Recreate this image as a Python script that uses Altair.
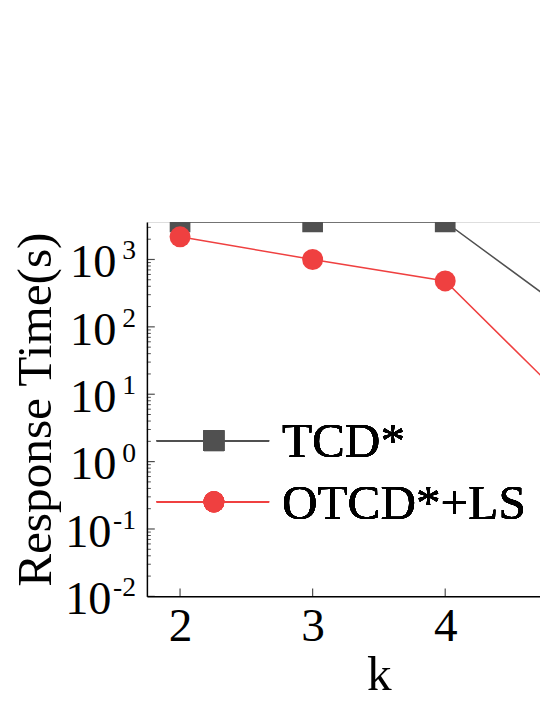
import altair as alt
import pandas as pd

# ---- data ----
k_values = [2, 3, 4, 5]
tcd_times = [3600, 3600, 3600, 130]
otcd_times = [2170, 1000, 480, 5.4]
series_names = ["TCD*", "OTCD*+LS"]
series_colors = ["#505050", "#ef4040"]
series_shapes = ["square", "circle"]
series_sizes = [441, 452]

x_ticks = [2, 3, 4]
y_exponents = [-2, -1, 0, 1, 2, 3]
minor_multipliers = [2, 3, 4, 5, 6, 7, 8, 9]
x_domain = [1.75, 5.25]
y_domain = [0.01, 3600]

W, H = 471, 380
FONT = "Liberation Serif"

df = pd.DataFrame({
    "k": k_values * 2,
    "time": tcd_times + otcd_times,
    "series": [series_names[0]] * len(k_values) + [series_names[1]] * len(k_values),
})

xs = alt.Scale(domain=x_domain, nice=False, zero=False)
ys = alt.Scale(type="log", domain=y_domain, nice=False)

x_axis = alt.Axis(values=x_ticks, format="d", ticks=False, grid=False, domain=True,
                  domainColor="black", domainWidth=1.5,
                  labelFont=FONT, labelFontSize=48, labelColor="black", labelPadding=7,
                  title="k", titleFont=FONT, titleFontSize=50, titleFontWeight="normal",
                  titleColor="black", titleY=95, titleBaseline="alphabetic", titleX=W / 2)
y_axis = alt.Axis(labels=False, ticks=False, grid=False, domain=True,
                  domainColor="black", domainWidth=1.5,
                  title="Response Time(s)", titleFont=FONT, titleFontSize=50,
                  titleFontWeight="normal", titleColor="black", titleAngle=270,
                  titleBaseline="alphabetic", titleAlign="center",
                  titleX=-98, titleY=H / 2)

color_scale = alt.Scale(domain=series_names, range=series_colors)

lines = alt.Chart(df).mark_line(strokeWidth=1.5, clip=True).encode(
    x=alt.X("k:Q", scale=xs, axis=x_axis),
    y=alt.Y("time:Q", scale=ys, axis=y_axis),
    color=alt.Color("series:N", scale=color_scale, legend=None),
    detail="series:N",
)

point_layers = []
for name, col, shp, sz in zip(series_names, series_colors, series_shapes, series_sizes):
    point_layers.append(
        alt.Chart(df).transform_filter(alt.datum.series == name)
        .mark_point(shape=shp, size=sz, filled=True, opacity=1, color=col, clip=True)
        .encode(x=alt.X("k:Q", scale=xs), y=alt.Y("time:Q", scale=ys))
    )

# ticks (inward)
major_df = pd.DataFrame({"time": [10.0 ** e for e in y_exponents]})
minor_df = pd.DataFrame({"time": [m * 10.0 ** e for e in y_exponents for m in minor_multipliers
                                  if m * 10.0 ** e <= y_domain[1]]})
xt_df = pd.DataFrame({"k": x_ticks})

y_major = alt.Chart(major_df).mark_tick(orient="horizontal", size=8, thickness=1.2, color="black").encode(
    y=alt.Y("time:Q", scale=ys), x=alt.value(4))
y_minor = alt.Chart(minor_df).mark_tick(orient="horizontal", size=4, thickness=1, color="black").encode(
    y=alt.Y("time:Q", scale=ys), x=alt.value(2))
x_major = alt.Chart(xt_df).mark_tick(orient="vertical", size=8, thickness=1.2, color="black").encode(
    x=alt.X("k:Q", scale=xs), y=alt.value(H - 4))

# y tick labels with superscript exponents
lab_df = pd.DataFrame({"e": y_exponents, "time": [10.0 ** e for e in y_exponents],
                       "es": [str(e) for e in y_exponents]})
exp_text = alt.Chart(lab_df).mark_text(font=FONT, fontSize=28, align="right",
                                       baseline="alphabetic", color="black").encode(
    y=alt.Y("time:Q", scale=ys), x=alt.value(-11), text="es:N")
ten_pos = alt.Chart(lab_df).transform_filter(alt.datum.e >= 0).mark_text(
    font=FONT, fontSize=47, align="right", baseline="alphabetic", dy=18, color="black",
    text="10").encode(y=alt.Y("time:Q", scale=ys), x=alt.value(-31))
ten_neg = alt.Chart(lab_df).transform_filter(alt.datum.e < 0).mark_text(
    font=FONT, fontSize=47, align="right", baseline="alphabetic", dy=18, color="black",
    text="10").encode(y=alt.Y("time:Q", scale=ys), x=alt.value(-36))

# manual legend
legend_layers = []
row_y = [222, 284]
for name, col, shp, sz, ry in zip(series_names, series_colors, series_shapes, series_sizes, row_y):
    legend_layers.append(alt.Chart(df).mark_rule(color=col, strokeWidth=1.5).encode(
        x=alt.value(10), x2=alt.value(124), y=alt.value(ry)))
    legend_layers.append(alt.Chart(df).mark_point(shape=shp, size=sz, filled=True, opacity=1,
                                                  color=col).encode(
        x=alt.value(68), y=alt.value(ry)))
    legend_layers.append(alt.Chart(df).mark_text(font=FONT, fontSize=50, align="left",
                                                 baseline="alphabetic", color="black",
                                                 text=name).encode(
        x=alt.value(137), y=alt.value(ry + 17)))

chart = alt.layer(
    lines, *point_layers, y_major, y_minor, x_major, exp_text, ten_pos, ten_neg, *legend_layers
).properties(
    width=W, height=H,
    autosize=alt.AutoSizeParams(type="none"),
    padding={"left": 141, "top": 212, "right": -72, "bottom": 101},
).configure_view(stroke="#222", strokeWidth=1.5).configure(background="white")

chart.save("out.html", embed_options={"renderer": "svg", "actions": False})
